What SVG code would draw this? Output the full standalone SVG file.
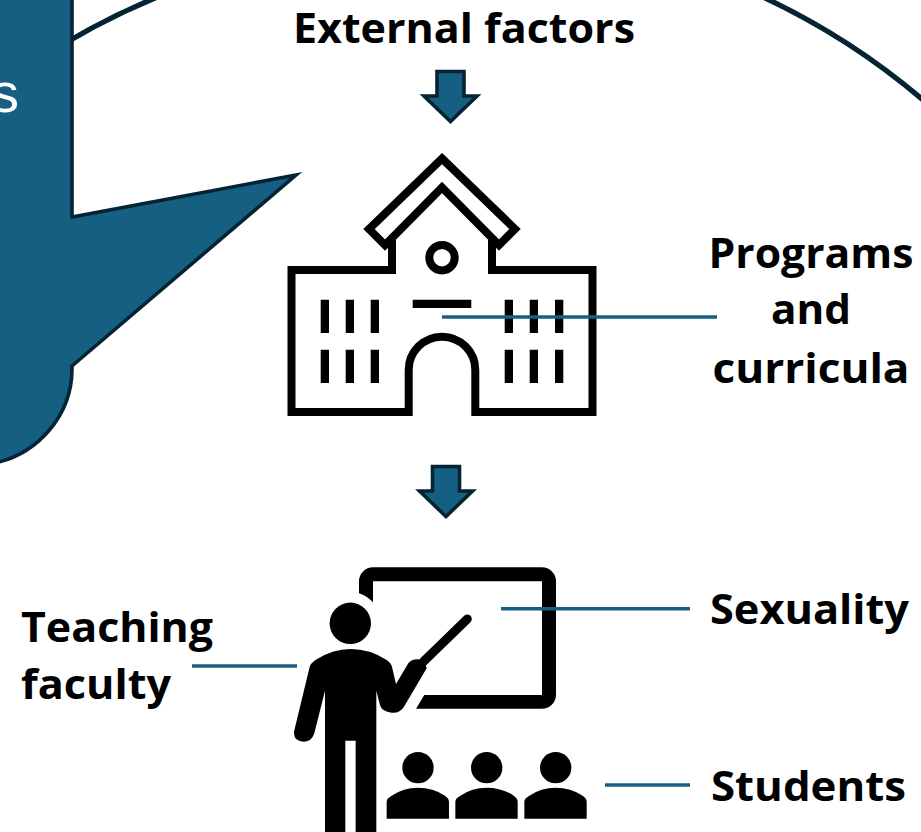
<svg xmlns="http://www.w3.org/2000/svg" width="921" height="832" viewBox="0 0 921 832">
<style>
.t{font-family:"Open Sans","Noto Sans",Arial,sans-serif;font-weight:700;font-size:41px;fill:#000}
.m{text-anchor:middle}
.o{fill:none;stroke:#000;stroke-width:8;stroke-miterlimit:10}
.k{fill:#000}
.c{fill:none;stroke:#156082;stroke-width:3.4}
.a{fill:#156082;stroke:#042433;stroke-width:3.6}
</style>
<rect width="921" height="832" fill="#fff"/>
<g id="frame-arc"><path d="M35 62 A710 710 0 0 1 170 -8 M752 -8 A710 710 0 0 1 930 106" fill="none" stroke="#042433" stroke-width="5.2"/></g>
<g id="callout"><path class="a" d="M-10 -10 H72 V217 L296 175 L72 366 V368 A100 97 0 0 1 -10 464 Z"/>
<text x="19" y="112" text-anchor="end" font-family="Liberation Sans,Arial,sans-serif" font-size="56" fill="#fff">s</text></g>
<g id="external-factors"><text class="t" x="293" y="43" textLength="342" lengthAdjust="spacingAndGlyphs">External factors</text></g>
<g id="arrow-top"><path class="a" d="M437 71.5 H464 V96 H477 L450.500 121.500 L424 96 H437 Z"/></g>
<g id="school">
<path class="o" d="M392 240 V270 H291.500 V412 H408.700 V370 A33.300 33.300 0 0 1 475.300 370 V412 H592.500 V270 H492 V240"/>
<path class="o" d="M442 158.500 L515 229 L499 245 L442 187.500 L385 245 L369 229 Z"/>
<circle class="o" cx="442" cy="257.700" r="12.700"/>
<path class="k" d="M412.700 299.700 H471.300 V308 H412.700 Z M320.700 299.700 h8.300 v33.300 h-8.300 Z M345.700 299.700 h8.300 v33.300 h-8.300 Z M370.700 299.700 h8.300 v33.300 h-8.300 Z M504.700 299.700 h8.300 v33.300 h-8.300 Z M529.700 299.700 h8.300 v33.300 h-8.300 Z M555 299.700 h8.300 v33.300 h-8.300 Z M320.700 349.700 h8.300 v33.300 h-8.300 Z M345.700 349.700 h8.300 v33.300 h-8.300 Z M370.700 349.700 h8.300 v33.300 h-8.300 Z M504.700 349.700 h8.300 v33.300 h-8.300 Z M529.700 349.700 h8.300 v33.300 h-8.300 Z M555 349.700 h8.300 v33.300 h-8.300 Z"/>
</g>
<g id="programs-label"><text class="t m" x="811" y="268" textLength="205" lengthAdjust="spacingAndGlyphs">Programs</text><text class="t m" x="811" y="324" textLength="80" lengthAdjust="spacingAndGlyphs">and</text><text class="t m" x="811" y="383" textLength="197" lengthAdjust="spacingAndGlyphs">curricula</text></g>
<g id="arrow-mid"><path class="a" transform="translate(-4.500 395)" d="M437 71.500 H464 V96 H477 L450.500 121.500 L424 96 H437 Z"/></g>
<g id="teacher">
<path class="k" fill-rule="evenodd" d="M359 593.300 V581.300 A14 14 0 0 1 373 567.300 H542 A14 14 0 0 1 556 581.300 V695 A14 14 0 0 1 542 708.700 H416 L424.300 695 H542 V581.300 H373 V602.300 Q367 596 359 593.300 Z"/>
<circle class="k" cx="350.300" cy="623.300" r="20.700"/>
<path d="M467.300 619 L423.300 661.700" stroke="#000" stroke-width="9" stroke-linecap="round" fill="none"/>
<path class="k" transform="translate(280 560) scale(.3333)" d="M135 830 V392 L103 520 Q95 545 72 545 Q40 545 42 515 L88 325 Q90 310 110 298 Q160 267 211 267 Q270 267 320 300 Q335 310 337 325 L348 372 L385 310 Q395 297 415 298 Q435 300 440 325 L372 440 Q360 460 335 458 Q305 455 300 435 L289 392 V830 H227 V542 H196 V830 Z"/>
</g>
<g id="students">
<g id="student-1" transform="translate(280 560) scale(.3333)"><circle class="k" cx="414" cy="623" r="47"/><path class="k" d="M320 776 V725 Q320 715 335 707 Q370 683 413 683 Q460 683 495 707 Q507 715 507 725 V776 Z"/></g>
<g id="student-2" transform="translate(348.700 560) scale(.3333)"><circle class="k" cx="414" cy="623" r="47"/><path class="k" d="M320 776 V725 Q320 715 335 707 Q370 683 413 683 Q460 683 495 707 Q507 715 507 725 V776 Z"/></g>
<g id="student-3" transform="translate(417.700 560) scale(.3333)"><circle class="k" cx="414" cy="623" r="47"/><path class="k" d="M320 776 V725 Q320 715 335 707 Q370 683 413 683 Q460 683 495 707 Q507 715 507 725 V776 Z"/></g>
</g>
<g id="teaching-label"><text class="t" x="21" y="642" textLength="192" lengthAdjust="spacingAndGlyphs">Teaching</text><text class="t" x="21" y="699" textLength="150" lengthAdjust="spacingAndGlyphs">faculty</text></g>
<g id="sexuality-label"><text class="t" x="710" y="624" textLength="199" lengthAdjust="spacingAndGlyphs">Sexuality</text></g>
<g id="students-label"><text class="t" x="711" y="801" textLength="195" lengthAdjust="spacingAndGlyphs">Students</text></g>
<g id="connectors">
<path class="c" d="M442 317 H717"/>
<path class="c" d="M501 608.700 H690"/>
<path class="c" d="M192 666 H297"/>
<path class="c" d="M605 785 H690"/>
</g>
</svg>
